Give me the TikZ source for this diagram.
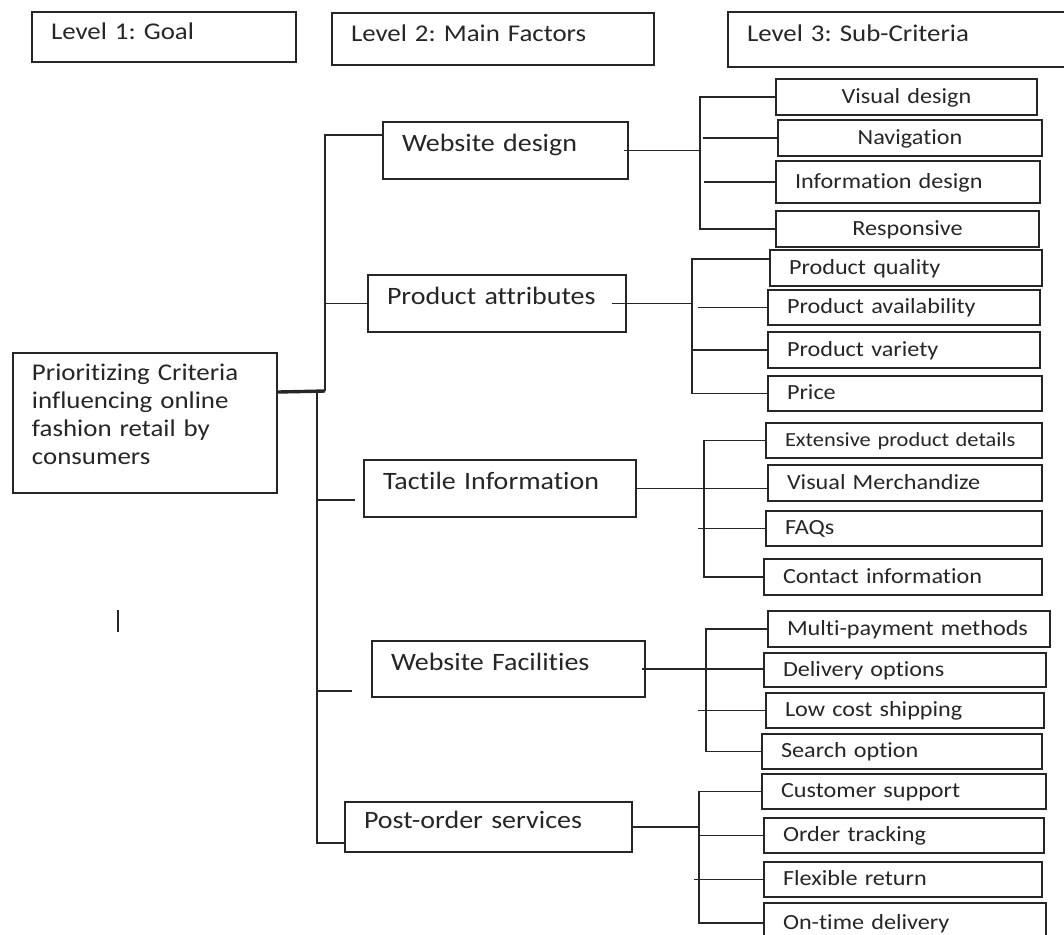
\documentclass[tikz,border=0pt]{standalone}
\usepackage{fontspec}
\setmainfont{Carlito}[FakeStretch=1.12,Ligatures=NoCommon]
\usepackage{tikz}
\frenchspacing

\begin{document}
\begin{tikzpicture}[x=0.5pt,y=-0.5pt,color=black!85,line width=0.95pt,
	level box/.style={draw,line width=1pt,anchor=north west,inner xsep=9.5pt,inner ysep=0pt,align=left,
		font=\fontsize{12}{14}\selectfont,text height=9pt,text depth=7pt},
	goal box/.style={level box,text depth=52pt},
	factor box/.style={level box,font=\fontsize{12.5}{15}\selectfont,text depth=8pt},
	crit box/.style={level box,font=\fontsize{10.8}{13}\selectfont,text depth=3pt},
	trunk/.style={line width=1.7pt}]
	
	\useasboundingbox (0,0) rectangle (1064,934);
	\clip (0,0) rectangle (1064,934);
	
	\node[level box, text width=113pt, minimum height=25pt] (lvlgoal) at (31,11) {Level 1: Goal};
	\node[level box, text width=142pt, minimum height=26pt] (lvlfactor) at (331,12) {Level 2: Main Factors};
	\node[level box, text width=153.5pt, minimum height=27.5pt] (lvlsub) at (727,11) {Level 3: Sub-Criteria};
	
	\node[goal box, text width=113pt, minimum height=70pt] (goal) at (12,352) {Prioritizing Criteria\\influencing online\\fashion retail by\\consumers};
	
	\node[factor box, text width=103.5pt, minimum height=28.5pt] (webdesign) at (382,121) {Website design};
	\node[factor box, text width=110pt, minimum height=28.5pt] (prodattr) at (367,274) {Product attributes};
	\node[factor box, text width=117pt, minimum height=28.5pt] (tactile) at (363,459) {Tactile Information};
	\node[factor box, text width=117.5pt, minimum height=28pt] (facilities) at (371,640) {Website Facilities};
	\node[factor box, text width=124.5pt, minimum height=25pt] (postorder) at (344,801) {Post-order services};
	
	\node[crit box, text width=111.5pt, minimum height=18pt, align=center] (visual) at (775,78) {Visual design};
	\node[crit box, text width=113pt, minimum height=18pt, align=center] (navigation) at (777,119) {Navigation};
	\node[crit box, text width=113pt, minimum height=21pt] (infodesign) at (775,160) {Information design};
	\node[crit box, text width=112.5pt, minimum height=18pt, align=center] (responsive) at (775,210) {Responsive};
	
	\node[crit box, text width=117pt, minimum height=18pt] (quality) at (769,249) {Product quality};
	\node[crit box, text width=117pt, minimum height=17.5pt] (availability) at (767,289) {Product availability};
	\node[crit box, text width=117pt, minimum height=18pt] (variety) at (767,331) {Product variety};
	\node[crit box, text width=118pt, minimum height=17.5pt] (price) at (767,375) {Price};
	
	\node[crit box, text width=119pt, minimum height=17.5pt, font=\fontsize{10}{12}\selectfont] (details) at (765,422) {Extensive product details};
	\node[crit box, text width=118pt, minimum height=18pt] (merch) at (767,464) {Visual Merchandize};
	\node[crit box, text width=119pt, minimum height=17.5pt] (faqs) at (765,510) {FAQs};
	\node[crit box, text width=120pt, minimum height=18pt] (contact) at (763,558) {Contact information};
	
	\node[crit box, text width=122pt, minimum height=18pt] (payment) at (767,610) {Multi-payment methods};
	\node[crit box, text width=122pt, minimum height=17pt] (delivery) at (763,652) {Delivery options};
	\node[crit box, text width=120pt, minimum height=17.5pt] (shipping) at (765,692) {Low cost shipping};
	\node[crit box, text width=121pt, minimum height=17.5pt] (search) at (761,733) {Search option};
	
	\node[crit box, text width=123pt, minimum height=17.5pt] (support) at (761,773) {Customer support};
	\node[crit box, text width=121pt, minimum height=17.5pt] (tracking) at (763,817) {Order tracking};
	\node[crit box, text width=120pt, minimum height=17.5pt] (returns) at (763,861) {Flexible return};
	\node[crit box, text width=122pt, minimum height=20pt] (ontime) at (763,902) {On-time delivery};
	
	\coordinate (hub) at (325,391);
	\coordinate (hublow) at (317,391);
	\draw[trunk] ([yshift=15.5pt]goal.east) -- (hub);
	\draw (hub) |- ([yshift=7.75pt]webdesign.west);
	\draw (hub |- prodattr.west) -- (prodattr.west);
	\draw (hublow) |- ([yshift=-8pt]postorder.west);
	\draw ([xshift=-4pt,yshift=-5.75pt]tactile.west) -- ++(-38,0);
	\draw ([xshift=-9.5pt,yshift=-11pt]facilities.west) -- ++(-35,0);
	
	\draw ([xshift=-2.5pt]webdesign.east) -- ++(76,0) coordinate (wdspine) |- (visual.west);
	\draw (wdspine) |- (responsive.west);
	\draw (navigation.west) -- ++(-74,0);
	\draw (infodesign.west) -- ++(-71,0);
	
	\draw ([xshift=-7.5pt]prodattr.east) -- ++(80,0) coordinate (paspine) |- ([yshift=4.5pt]quality.west);
	\draw (paspine) |- (price.west);
	\draw (paspine |- variety.west) -- (variety.west);
	\draw (availability.west) -- ++(-69,0);
	
	\draw (tactile.east) -- ++(67,0) coordinate (tispine) |- (details.west);
	\draw (tispine) |- (contact.west);
	\draw (tispine) -- (tispine -| merch.west);
	\draw (faqs.west) -- ++(-67,0);
	
	\draw ([xshift=-2pt]facilities.east) -- ++(64,0) coordinate (wfspine) |- (payment.west);
	\draw (wfspine) |- (search.west);
	\draw (wfspine) -- (wfspine -| delivery.west);
	\draw (shipping.west) -- ++(-67,0);
	
	\draw (postorder.east) -- ++(66,0) coordinate (psspine) |- (support.west);
	\draw (psspine) |- (ontime.west);
	\draw (tracking.west) -- ++(-63,0);
	\draw (returns.west) -- ++(-69,0);
	
	\draw[line width=1pt] (118,610) -- (118,632);
\end{tikzpicture}
\end{document}
